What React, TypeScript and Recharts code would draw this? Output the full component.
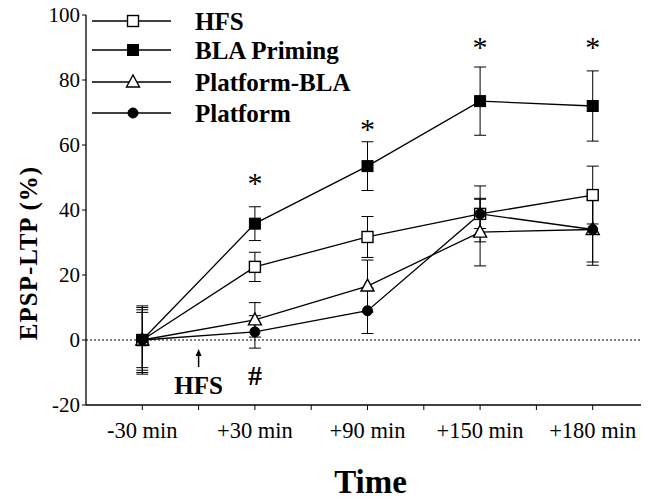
import React from 'react';
import {
  ComposedChart, Line, XAxis, YAxis, ErrorBar, ReferenceLine, Scatter,
} from 'recharts';

const FONT = '"Liberation Serif", "Times New Roman", serif';

const categories = ['-30 min', '+30 min', '+90 min', '+150 min', '+180 min'];
const xTicks = [0, 0.5, 1, 1.5, 2, 2.5, 3, 3.5, 4, 4.5];
const yTicks = [-20, 0, 20, 40, 60, 80, 100];

const hfs = [0, 22.5, 31.7, 38.8, 44.6];
const hfsErr = [10, 4.5, 6.3, 8.6, 8.9];
const bla = [0, 35.8, 53.5, 73.5, 72];
const blaErr = [8.5, 5.2, 7.5, 10.5, 10.8];
const pbla = [0, 6.2, 16.6, 33.2, 34];
const pblaErr = [9.3, 5.3, 8, 10.4, 10];
const platform = [0, 2.5, 9, 38.8, 34];
const platformErr = [10.5, 5, 7, 4.5, 11];

const starX = [1, 2, 3, 4];
const starY = [50, 66.5, 91.7, 91.7];
const hashX = [1];
const hashY = [-10.8];
const arrowX = [0.5];
const arrowY = [-2.8];

const seriesNames = ['HFS', 'BLA Priming', 'Platform-BLA', 'Platform'];
const seriesKeys = ['hfs', 'bla', 'pbla', 'platform'];
const seriesMarkers = ['openSquare', 'filledSquare', 'openTriangle', 'filledCircle'];

const data = categories.map((c, i) => ({
  x: i,
  hfs: hfs[i], hfsErr: hfsErr[i],
  bla: bla[i], blaErr: blaErr[i],
  pbla: pbla[i], pblaErr: pblaErr[i],
  platform: platform[i], platformErr: platformErr[i],
}));

const starData = starX.map((x, i) => ({ x, y: starY[i] }));
const hashData = hashX.map((x, i) => ({ x, y: hashY[i] }));
const arrowData = arrowX.map((x, i) => ({ x, y: arrowY[i] }));

function Marker({ cx, cy, type }: { cx: number; cy: number; type: string }) {
  if (cx == null || cy == null) return null;
  const s = 5.5;
  if (type === 'openSquare')
    return <rect x={cx - s} y={cy - s} width={2 * s} height={2 * s} fill="#fff" stroke="#000" strokeWidth={1.4} />;
  if (type === 'filledSquare')
    return <rect x={cx - s} y={cy - s} width={2 * s} height={2 * s} fill="#000" stroke="#000" strokeWidth={1} />;
  if (type === 'openTriangle')
    return (
      <polygon
        points={`${cx},${cy - 7} ${cx - 6.5},${cy + 5} ${cx + 6.5},${cy + 5}`}
        fill="#fff" stroke="#000" strokeWidth={1.4}
      />
    );
  return <circle cx={cx} cy={cy} r={5} fill="#000" stroke="#000" />;
}

const makeDot = (type: string) => (props: any) => (
  <Marker key={`${type}-${props.index}`} cx={props.cx} cy={props.cy} type={type} />
);

const StarShape = (props: any) => (
  <text x={props.cx} y={props.cy + 15} textAnchor="middle" fontFamily={FONT} fontSize={30} fill="#000">*</text>
);
const HashShape = (props: any) => (
  <text x={props.cx} y={props.cy + 10} textAnchor="middle" fontFamily={FONT} fontSize={28} fontWeight="bold" fill="#000">#</text>
);
const ArrowShape = (props: any) => {
  const { cx, cy } = props;
  return (
    <g>
      <line x1={cx} y1={cy + 3} x2={cx} y2={cy + 18} stroke="#000" strokeWidth={1.5} />
      <polygon points={`${cx},${cy} ${cx - 3},${cy + 7} ${cx + 3},${cy + 7}`} fill="#000" />
      <text x={cx} y={cy + 45} textAnchor="middle" fontFamily={FONT} fontSize={25} fontWeight="bold" fill="#000">HFS</text>
    </g>
  );
};

const LegendBox = () => {
  const rowY = [21, 50, 82, 113];
  return (
    <svg width={300} height={130} style={{ position: 'absolute', left: 92, top: 0, display: 'block' }}>
      {seriesNames.map((name, i) => (
        <g key={name}>
          <line x1={0} y1={rowY[i]} x2={79} y2={rowY[i]} stroke="#000" strokeWidth={1.3} />
          <Marker cx={41} cy={rowY[i]} type={seriesMarkers[i]} />
          <text x={103} y={rowY[i] + 9} fontFamily={FONT} fontSize={25} fontWeight="bold" fill="#000">{name}</text>
        </g>
      ))}
    </svg>
  );
};

export default function App() {
  return (
    <div style={{ position: 'relative', width: 649, height: 500, margin: '-8px 0 0 -8px' }}>
      <ComposedChart
        width={649}
        height={500}
        data={data}
        margin={{ top: 15, right: 0, left: 0, bottom: 0 }}
        style={{ fontFamily: FONT }}
      >
        <XAxis
          dataKey="x"
          type="number"
          domain={[-0.5, 4.5]}
          ticks={xTicks}
          interval={0}
          allowDataOverflow
          height={95}
          tickSize={5}
          tickMargin={12}
          fontSize={22.5}
          fontFamily={FONT}
          tickFormatter={(v: number) => (Number.isInteger(v) ? categories[v] : '')}
          tick={{ fill: '#000', fontSize: 22.5, fontFamily: FONT }}
          axisLine={{ stroke: '#000', strokeWidth: 1.3 }}
          tickLine={{ stroke: '#000', strokeWidth: 1 }}
          label={{
            content: (p: any) => {
              const vb = p.viewBox || { x: 86, y: 405, width: 563 };
              return (
                <text x={vb.x + vb.width / 2 + 3} y={vb.y + 88} textAnchor="middle" fontFamily={FONT} fontSize={33} fontWeight="bold" fill="#000">Time</text>
              );
            },
          }}
        />
        <YAxis
          type="number"
          domain={[-20, 100]}
          ticks={yTicks}
          interval={0}
          allowDataOverflow
          width={86}
          tickSize={4}
          tickMargin={2}
          fontSize={21}
          fontFamily={FONT}
          tick={{ fill: '#000', fontSize: 21, fontFamily: FONT }}
          axisLine={{ stroke: '#000', strokeWidth: 1.3 }}
          tickLine={{ stroke: '#000', strokeWidth: 1 }}
          label={{
            content: () => (
              <text x={37} y={253} transform="rotate(-90, 37, 253)" textAnchor="middle" fontFamily={FONT} fontSize={25} fontWeight="bold" letterSpacing={1} fill="#000">EPSP-LTP (%)</text>
            ),
          }}
        />
        <ReferenceLine y={0} stroke="#000" strokeWidth={1} strokeDasharray="2 2" />
        {seriesKeys.map((k, i) => (
          <Line
            key={k}
            dataKey={k}
            name={seriesNames[i]}
            stroke="#000"
            strokeWidth={1.3}
            isAnimationActive={false}
            dot={makeDot(seriesMarkers[i])}
            activeDot={false}
          >
            <ErrorBar dataKey={`${k}Err`} width={6} stroke="#000" strokeWidth={1} direction="y" />
          </Line>
        ))}
        <Scatter data={starData} dataKey="y" shape={StarShape} isAnimationActive={false} />
        <Scatter data={hashData} dataKey="y" shape={HashShape} isAnimationActive={false} />
        <Scatter data={arrowData} dataKey="y" shape={ArrowShape} isAnimationActive={false} />
      </ComposedChart>
      <LegendBox />
    </div>
  );
}
